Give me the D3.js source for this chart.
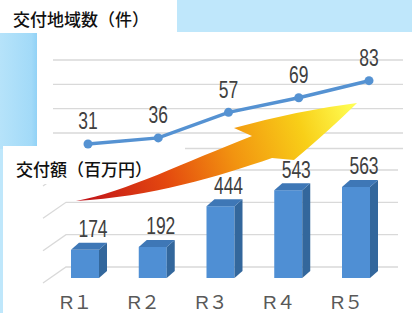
<!DOCTYPE html>
<html>
<head>
<meta charset="utf-8">
<script src="https://cdn.jsdelivr.net/npm/d3@7"></script>
<style>
  body { margin:0; padding:0; background:#fff; }
  svg { display:block; }
  .num { font-family:'Liberation Sans',Arial,sans-serif; font-size:23px; fill:#404040; }
  .cat { font-family:'Liberation Sans','Noto Sans CJK JP',sans-serif; font-size:19px; fill:#595959; }
  .ttl { font-family:'Noto Sans CJK JP',sans-serif; font-size:17px; font-weight:500; fill:#111; }
</style>
</head>
<body>
<div id="canvas"></div>
<script>
// data
var categories = ['R１','R２','R３','R４','R５'];
var areaCounts = [31, 36, 57, 69, 83];       // 交付地域数（件）
var grantAmounts = [174, 192, 444, 543, 563]; // 交付額（百万円）
var countTicks = [20, 40, 60, 80, 100];
var amountTicks = [0, 200, 400, 600];

var W = 412, H = 313;
var narrow = 0.76; // squeeze numbers like a narrow face

var svg = d3.select('#canvas')
    .append('svg')
    .attr('width', W)
    .attr('height', H);

var defs = svg.append('defs');

var bgGrad = defs.append('linearGradient')
    .attr('id','bgGrad').attr('x1',0).attr('x2',1).attr('y1',0).attr('y2',0);
bgGrad.append('stop').attr('offset',0).attr('stop-color','#b6e3fa');
bgGrad.append('stop').attr('offset',0.85).attr('stop-color','#a2daf8');
bgGrad.append('stop').attr('offset',1).attr('stop-color','#92d2f6');

var arrowGrad = defs.append('linearGradient')
    .attr('id','arrowGrad')
    .attr('gradientUnits','userSpaceOnUse')
    .attr('x1',80).attr('y1',200).attr('x2',355).attr('y2',105);
[[0,'#c0121a'],[0.3,'#e4480f'],[0.55,'#f29410'],[0.8,'#f8cf18'],[1,'#ffff55']]
  .forEach(function(s){
    arrowGrad.append('stop').attr('offset',s[0]).attr('stop-color',s[1]);
  });

// background
svg.append('rect').attr('width',W).attr('height',H).attr('fill','#bfe7fb');
svg.append('rect').attr('x',0).attr('y',33).attr('width',37).attr('height',116)
    .attr('fill','url(#bgGrad)');

// upper panel (line chart)
svg.append('rect').attr('x',37).attr('y',32).attr('width',W-37).attr('height',117)
    .attr('fill','#fff');

var xTop = d3.scalePoint().domain(categories).range([88, 369]);
var yTop = d3.scaleLinear().domain([0,100]).range([181.7, 60]);

var upper = svg.append('g');

upper.selectAll('.grid')
    .data(countTicks)
    .enter()
    .append('line')
    .attr('x1',53).attr('x2',403)
    .attr('y1',function(d){ return yTop(d); })
    .attr('y2',function(d){ return yTop(d); })
    .attr('stroke','#d9d9d9').attr('stroke-width',1.3);

// lower panel (3D bars)
svg.append('rect').attr('x',3).attr('y',148).attr('width',W-3).attr('height',H-148)
    .attr('fill','#fff');
svg.append('line').attr('x1',53).attr('x2',403).attr('y1',148.5).attr('y2',148.5)
    .attr('stroke','#d9d9d9').attr('stroke-width',1.3);

var xBar = d3.scalePoint().domain(categories).range([85, 356]);
var yBar = d3.scaleLinear().domain([0,600]).range([278, 181]);
var bw = 28, dx = 8, dy = 7;

var bot = svg.append('g');

// back wall + side wall gridlines
bot.selectAll('.g3d')
    .data(amountTicks)
    .enter()
    .append('polyline')
    .attr('points', function(d){
      var yb = yBar(d) - 11;
      return [[43, yb+16],[66, yb],[398, yb]].map(function(p){ return p.join(','); }).join(' ');
    })
    .attr('fill','none')
    .attr('stroke','#d9d9d9').attr('stroke-width',1.3);

// title box 2
svg.append('rect').attr('x',3).attr('y',146).attr('width',182).attr('height',38)
    .attr('fill','#fff');
svg.append('text').attr('class','ttl').attr('x',16).attr('y',176).text('交付額（百万円）');

// title box 1
svg.append('rect').attr('x',0).attr('y',0).attr('width',177).attr('height',33)
    .attr('fill','#fff');
svg.append('text').attr('class','ttl').attr('x',13).attr('y',26).text('交付地域数（件）');

// arrow
svg.append('path')
    .attr('d','M76,201 C125,192 185,162 252,136 L234,128 Q300,110 357,103 Q332,128 294,160 L272,158 C220,176 150,197 76,201 Z')
    .attr('fill','url(#arrowGrad)');

// bars
var bars = bot.selectAll('.bar')
    .data(grantAmounts)
    .enter()
    .append('g')
    .attr('class','bar');

bars.append('rect')
    .attr('x', function(d,i){ return xBar(categories[i]) - bw/2; })
    .attr('y', function(d){ return yBar(d); })
    .attr('width', bw)
    .attr('height', function(d){ return yBar(0) - yBar(d); })
    .attr('fill','#4f8fd4');

bars.append('path')
    .attr('d', function(d,i){
      var x = xBar(categories[i]) + bw/2, y = yBar(d), b = yBar(0);
      return 'M'+x+','+y+' L'+(x+dx)+','+(y-dy)+' L'+(x+dx)+','+(b-dy)+' L'+x+','+b+' Z';
    })
    .attr('fill','#33679c');

bars.append('path')
    .attr('d', function(d,i){
      var x = xBar(categories[i]) - bw/2, y = yBar(d);
      return 'M'+x+','+y+' L'+(x+dx)+','+(y-dy)+' L'+(x+bw+dx)+','+(y-dy)+' L'+(x+bw)+','+y+' Z';
    })
    .attr('fill','#3e77b6');

bars.append('text')
    .attr('class','num')
    .attr('transform', function(d,i){
      return 'translate(' + (xBar(categories[i]) + dx) + ',' + (yBar(d) - 12.5) + ') scale(' + narrow + ',1)';
    })
    .attr('text-anchor','middle')
    .text(function(d){ return d; });

bot.selectAll('.cat')
    .data(categories)
    .enter()
    .append('text')
    .attr('class','cat')
    .attr('x', function(d){ return xBar(d) - 9; })
    .attr('y', 309)
    .attr('text-anchor','middle')
    .text(function(d){ return d; });

// line
var line = d3.line()
    .x(function(d,i){ return xTop(categories[i]); })
    .y(function(d){ return yTop(d); });

svg.append('path')
    .datum(areaCounts)
    .attr('d', line)
    .attr('fill','none')
    .attr('stroke','#5592d2')
    .attr('stroke-width',3.5);

svg.selectAll('.pt')
    .data(areaCounts)
    .enter()
    .append('circle')
    .attr('cx', function(d,i){ return xTop(categories[i]); })
    .attr('cy', function(d){ return yTop(d); })
    .attr('r', 4.5)
    .attr('fill','#5592d2');

svg.selectAll('.lbl')
    .data(areaCounts)
    .enter()
    .append('text')
    .attr('class','num')
    .attr('transform', function(d,i){
      return 'translate(' + xTop(categories[i]) + ',' + (yTop(d) - 14.5) + ') scale(' + narrow + ',1)';
    })
    .attr('text-anchor','middle')
    .text(function(d){ return d; });
</script>
</body>
</html>
